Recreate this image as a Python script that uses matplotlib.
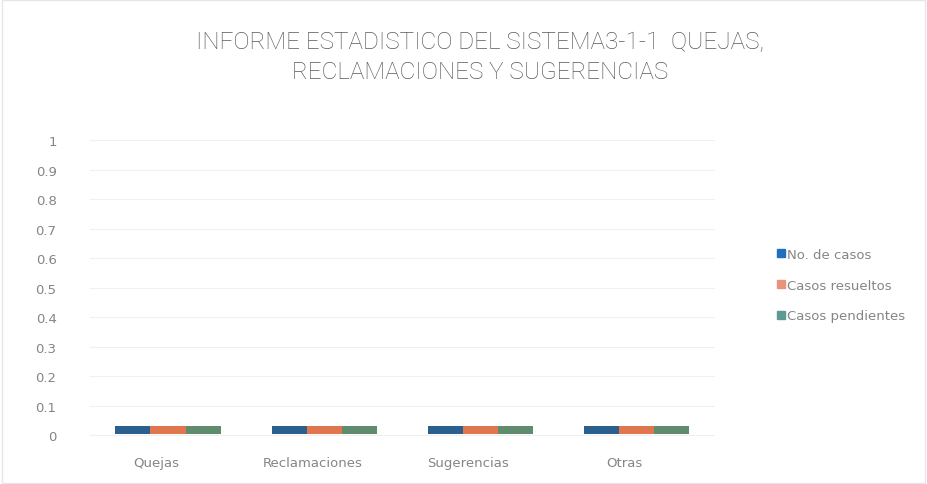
import matplotlib.pyplot as plt
import matplotlib.transforms as mtransforms
from matplotlib.patches import Rectangle
import numpy as np

categories = ['Quejas', 'Reclamaciones', 'Sugerencias', 'Otras']
series_names = ['No. de casos', 'Casos resueltos', 'Casos pendientes']
no_casos = [0, 0, 0, 0]
casos_resueltos = [0, 0, 0, 0]
casos_pendientes = [0, 0, 0, 0]
y_ticks = [0, 0.1, 0.2, 0.3, 0.4, 0.5, 0.6, 0.7, 0.8, 0.9, 1]
y_tick_labels = ['0', '0.1', '0.2', '0.3', '0.4', '0.5', '0.6', '0.7', '0.8', '0.9', '1']

bar_colors = ['#2b5f8e', '#e0764e', '#5f8c6c']
legend_colors = ['#1f6fc0', '#e8937a', '#5e9a92']
text_color = '#858585'

# the zero-height 3D bars show up as a thin slab at the floor
slab = 0.028

fig = plt.figure(figsize=(9.27, 4.85), dpi=100)
ax = fig.add_axes([0.097, 0.097, 0.674, 0.612])

x = np.arange(len(categories))
width = 0.225
series = [no_casos, casos_resueltos, casos_pendientes]
for i, vals in enumerate(series):
    ax.bar(x + (i - 1) * width, np.array(vals) + slab, width, bottom=0.004,
           color=bar_colors[i], label=series_names[i], zorder=3)

ax.set_xlim(-0.5, len(categories) - 0.5)
ax.set_ylim(-0.005, 1.0)
ax.set_yticks(y_ticks)
ax.set_yticklabels(y_tick_labels)
ax.yaxis.grid(True, color='#f0f0f0', linewidth=0.8, zorder=0)
ax.set_axisbelow(True)
for s in ax.spines.values():
    s.set_visible(False)
ax.tick_params(axis='both', length=0, colors=text_color, labelsize=9.5)
ax.tick_params(axis='y', pad=24)
ax.tick_params(axis='x', pad=14)
ax.set_xticks(x)
ax.set_xticklabels(categories)
offset = mtransforms.ScaledTranslation(-12 / 100, 0, fig.dpi_scale_trans)
for lbl in ax.get_xticklabels():
    lbl.set_transform(lbl.get_transform() + offset)

fig.text(0.518, 0.913, 'INFORME ESTADISTICO DEL SISTEMA3-1-1  QUEJAS,',
         ha='center', va='center', fontsize=17.5, color='#595959',
         family='Roboto', fontweight='light')
fig.text(0.518, 0.850, 'RECLAMACIONES Y SUGERENCIAS',
         ha='center', va='center', fontsize=17.5, color='#595959',
         family='Roboto', fontweight='light')

handles = [Rectangle((0, 0), 1, 1, color=c) for c in legend_colors]
leg = fig.legend(handles, series_names, loc='center left',
                 bbox_to_anchor=(0.825, 0.41), frameon=False, fontsize=9.5,
                 handlelength=0.6, handleheight=0.6, handletextpad=0.2,
                 labelspacing=1.35)
for t in leg.get_texts():
    t.set_color(text_color)

fig.patches.append(Rectangle((0.002, 0.003), 0.996, 0.994, transform=fig.transFigure,
                             fill=False, edgecolor='#e6e6e6', linewidth=1))

fig.savefig('out.png', dpi=100)
